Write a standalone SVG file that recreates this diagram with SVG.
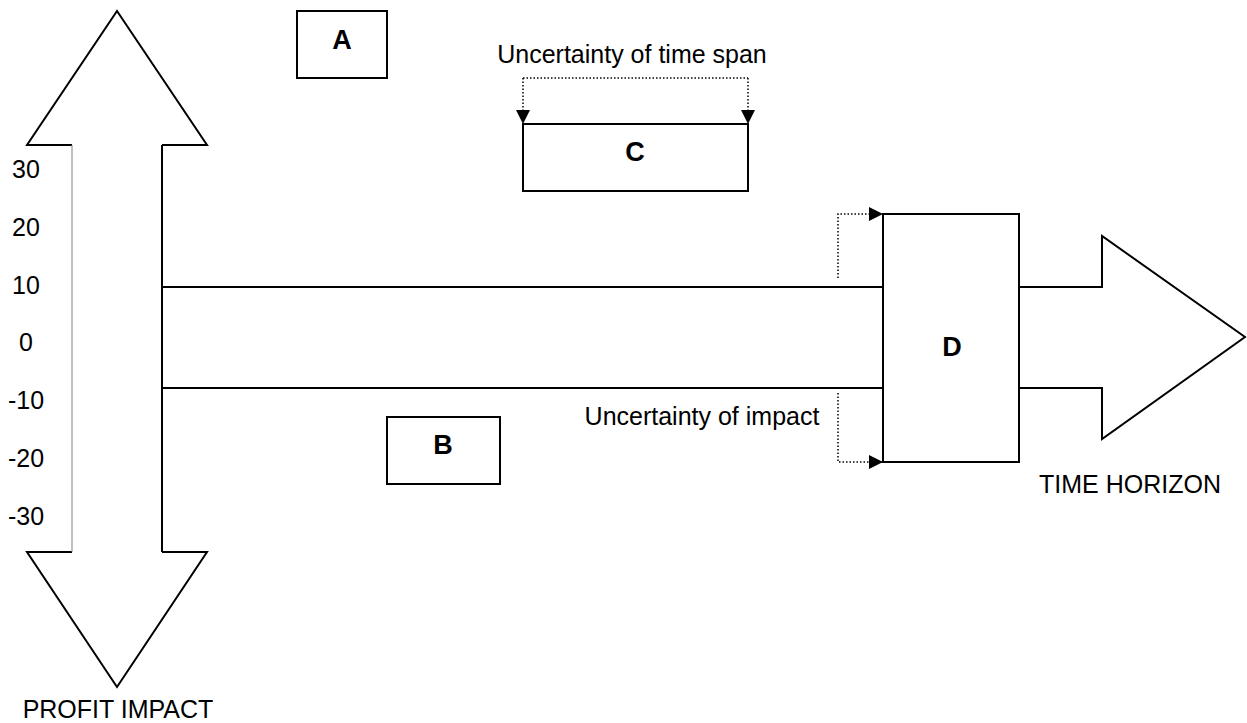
<svg xmlns="http://www.w3.org/2000/svg" width="1247" height="723" viewBox="0 0 1247 723">
  <style>
    .shape { fill: #fff; stroke: #000; stroke-width: 2; }
    .line { fill: none; stroke: #000; stroke-width: 2; }
    .thin { fill: none; stroke: #808080; stroke-width: 1; }
    .dotted { fill: none; stroke: #000; stroke-width: 1.5; stroke-dasharray: 1.5 2; }
    .label { font-family: "Liberation Sans", Arial, sans-serif; font-size: 27px; font-weight: bold; text-anchor: middle; fill: #000; }
    .text { font-family: "Liberation Sans", Arial, sans-serif; font-size: 25px; fill: #000; }
    .mid { text-anchor: middle; }
  </style>
  <defs>
    <marker id="tri" markerUnits="userSpaceOnUse" markerWidth="14" markerHeight="14" refX="14" refY="7" orient="auto">
      <path d="M0,0 L14,7 L0,14 Z" fill="#000"/>
    </marker>
  </defs>
  <rect width="1247" height="723" fill="#fff"/>

  <!-- vertical axis: profit impact (double-headed arrow) -->
  <g id="profit-axis">
    <path d="M162,145 L207,145 L117,11 L27,145 L72,145 L72,552 L27,552 L117,687 L207,552 L162,552 Z" fill="#fff"/>
    <path class="line" d="M162,145 L207,145 L117,11 L27,145 L72,145"/>
    <path class="line" d="M72,552 L27,552 L117,687 L207,552 L162,552"/>
    <line class="thin" x1="72" y1="145" x2="72" y2="552"/>
    <line class="line" x1="162" y1="145" x2="162" y2="552"/>
    <g class="text mid">
      <text x="26" y="178">30</text>
      <text x="26" y="236">20</text>
      <text x="26" y="294">10</text>
      <text x="26" y="351">0</text>
      <text x="26" y="409">-10</text>
      <text x="26" y="467">-20</text>
      <text x="26" y="525">-30</text>
    </g>
    <text class="text mid" x="118" y="718">PROFIT IMPACT</text>
  </g>

  <!-- horizontal axis: time horizon -->
  <g id="time-axis">
    <line class="line" x1="162" y1="287" x2="883" y2="287"/>
    <line class="line" x1="162" y1="388" x2="883" y2="388"/>
    <path class="line" d="M1019,287 L1102,287 L1102,236 L1245,337 L1102,439 L1102,388 L1019,388"/>
    <text class="text mid" x="1130" y="493">TIME HORIZON</text>
  </g>

  <g id="node-a">
    <rect class="shape" x="297" y="11" width="90" height="67"/>
    <text class="label" x="342" y="49">A</text>
  </g>

  <g id="node-b">
    <rect class="shape" x="387" y="417" width="113" height="67"/>
    <text class="label" x="443" y="454">B</text>
  </g>

  <g id="node-c">
    <rect class="shape" x="523" y="124" width="225" height="67"/>
    <text class="label" x="635" y="161">C</text>
  </g>

  <g id="node-d">
    <rect class="shape" x="883" y="214" width="136" height="248"/>
    <text class="label" x="952" y="356">D</text>
  </g>

  <!-- uncertainty connectors -->
  <g id="connectors">
    <path class="dotted" d="M523,78 L748,78"/>
    <path class="dotted" d="M523,78 L523,124" marker-end="url(#tri)"/>
    <path class="dotted" d="M748,78 L748,124" marker-end="url(#tri)"/>
    <path class="dotted" d="M838,278 L838,214 L883,214" marker-end="url(#tri)"/>
    <path class="dotted" d="M838,393 L838,462 L883,462" marker-end="url(#tri)"/>
  </g>

  <text class="text mid" x="632" y="63">Uncertainty of time span</text>
  <text class="text mid" x="702" y="425">Uncertainty of impact</text>
</svg>
